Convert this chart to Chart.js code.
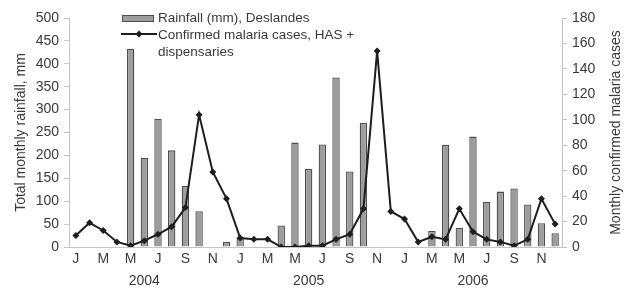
<!DOCTYPE html>
<html>
<head>
<meta charset="utf-8">
<script src="https://cdn.jsdelivr.net/npm/chart.js@4/dist/chart.umd.min.js"></script>
<style>
  html, body { margin: 0; padding: 0; background: #fff; }
  #contenedor { width: 627px; height: 289px; position: relative; }
</style>
</head>
<body>
<div id="contenedor"><canvas id="myChart"></canvas></div>
<script>
// Datos: enero 2004 - diciembre 2006
const meses = ["J","F","M","A","M","J","J","A","S","O","N","D"];
const anios = ["2004", "2005", "2006"];

// Lluvia mensual (mm), Deslandes
const lluvia = [
  null, null, null, null, 433, 195, 280, 211, 133, 78, null, 11,
  20, null, null, 47, 228, 171, 224, 370, 165, 271, null, null,
  null, null, 35, 223, 42, 241, 99, 121, 128, 93, 52, 30
];

// Casos confirmados de malaria, HAS + dispensarios
const casos = [
  9, 19, 13, 4, 1, 5, 10, 16, 31, 104, 59, 38,
  7, 6, 6, 0, 0, 1, 1, 6, 10, 30, 154, 28,
  22, 4, 8, 6, 30, 12, 6, 4, 1, 6, 38, 18
];

const etiquetaLluvia = "Rainfall (mm), Deslandes";
const etiquetaCasos = ["Confirmed malaria cases, HAS +", "dispensaries"];
const tituloY1 = "Monthly confirmed malaria cases";

// etiquetas del eje X: letra cada dos meses, año bajo junio
const etiquetas = [];
anios.forEach((anio) => {
  meses.forEach((m, i) => {
    const letra = i % 2 === 0 ? m : "";
    etiquetas.push([letra, i === 5 ? anio : ""]);
  });
});

const colorTexto = "#3a3a3a";
const colorEje = "#c4c4c4";
const colorBarra = "#9d9d9d";
const bordeBarra = "#4f4f4f";
const colorLinea = "#1e1e1e";
const familia = "'Liberation Sans', Arial, sans-serif";

// leyenda y titulo derecho dibujados a mano
const leyendaPlugin = {
  id: "leyenda",
  afterDraw(chart) {
    const ctx = chart.ctx;
    ctx.save();
    ctx.fillStyle = colorBarra;
    ctx.strokeStyle = bordeBarra;
    ctx.lineWidth = 1;
    ctx.fillRect(122.5, 15.5, 31, 6);
    ctx.strokeRect(122.5, 15.5, 31, 6);

    ctx.strokeStyle = colorLinea;
    ctx.lineWidth = 2;
    ctx.beginPath();
    ctx.moveTo(121, 34);
    ctx.lineTo(157, 34);
    ctx.stroke();
    ctx.fillStyle = colorLinea;
    ctx.beginPath();
    ctx.moveTo(139, 30.5);
    ctx.lineTo(142.5, 34);
    ctx.lineTo(139, 37.5);
    ctx.lineTo(135.5, 34);
    ctx.closePath();
    ctx.fill();

    ctx.fillStyle = colorTexto;
    ctx.font = "13.5px " + familia;
    ctx.textBaseline = "middle";
    ctx.fillText(etiquetaLluvia, 158, 18);
    ctx.fillText(etiquetaCasos[0], 158, 35);
    ctx.fillText(etiquetaCasos[1], 158, 52);

    // titulo del eje derecho, leído de abajo hacia arriba
    const area = chart.chartArea;
    ctx.font = "14px " + familia;
    ctx.translate(616, (area.top + area.bottom) / 2);
    ctx.rotate(-Math.PI / 2);
    ctx.textAlign = "center";
    ctx.fillText(tituloY1, 0, 0);
    ctx.restore();
  },
};

const fuente = { family: familia, size: 14 };

const ctx = document.getElementById("myChart").getContext("2d");

new Chart(ctx, {
  type: "bar",
  data: {
    labels: etiquetas,
    datasets: [
      {
        type: "line",
        label: etiquetaCasos.join(" "),
        data: casos,
        borderColor: colorLinea,
        backgroundColor: colorLinea,
        borderWidth: 2,
        pointStyle: "rectRot",
        pointRadius: 3.5,
        pointBorderWidth: 0,
        tension: 0,
        yAxisID: "y1",
        order: 0,
      },
      {
        label: etiquetaLluvia,
        data: lluvia,
        backgroundColor: colorBarra,
        borderColor: bordeBarra,
        borderWidth: 1.3,
        barPercentage: 0.54,
        categoryPercentage: 1,
        yAxisID: "y",
        order: 1,
      },
    ],
  },
  options: {
    responsive: true,
    maintainAspectRatio: false,
    animation: false,
    layout: { padding: { top: 18, left: 0, right: 0, bottom: 0 } },
    plugins: {
      legend: { display: false },
      tooltip: { enabled: false },
    },
    scales: {
      x: {
        type: "category",
        offset: true,
        grid: { display: false, drawTicks: false },
        border: { display: true, color: colorEje },
        ticks: {
          autoSkip: false,
          maxRotation: 0,
          padding: 1,
          color: colorTexto,
          font: { ...fuente, lineHeight: "22px" },
        },
        afterFit: (scale) => { scale.height = 42; },
      },
      // eje izquierdo: lluvia
      y: {
        position: "left",
        min: 0,
        max: 500,
        ticks: { stepSize: 50, color: colorTexto, font: fuente, padding: 5 },
        grid: { drawOnChartArea: false, tickLength: 5, color: colorEje },
        border: { color: colorEje },
        title: {
          display: true,
          text: "Total monthly rainfall, mm",
          color: colorTexto,
          font: fuente,
          padding: { top: 13, bottom: 0 },
        },
        afterFit: (scale) => { scale.width = 69; },
      },
      // eje derecho: casos
      y1: {
        position: "right",
        min: 0,
        max: 180,
        ticks: { stepSize: 20, color: colorTexto, font: fuente, padding: 5 },
        grid: { drawOnChartArea: false, tickLength: 5, color: colorEje },
        border: { color: colorEje },
        afterFit: (scale) => { scale.width = 65; },
      },
    },
  },
  plugins: [leyendaPlugin],
});
</script>
</body>
</html>
